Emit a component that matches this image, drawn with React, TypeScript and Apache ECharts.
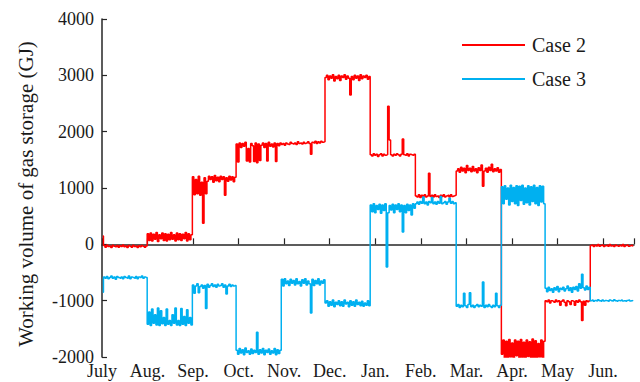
import React, { useEffect, useRef } from "react";
import * as echarts from "echarts";

const months = ["July", "Aug.", "Sep.", "Oct.", "Nov.", "Dec.", "Jan.", "Feb.", "Mar.", "Apr.", "May", "Jun."];
const monthDays = [31, 31, 30, 31, 30, 31, 31, 28, 31, 30, 31, 30];
const yTicks = [-2000, -1000, 0, 1000, 2000, 3000, 4000];
const seriesNames = ["Case 2", "Case 3"];

// Daily working volume (GJ), one list per month, Case 2
const case2Daily: number[][] = [
  [150, -20, -50, -10, -40, -30, -55, -15, -35, -45, -20, -50, -25, -40, -10, -45, -30, -55, -20, -35, -50, -15, -40, -30, -55, -25, -45, -20, -35, -50, -30],
  [190, 70, 200, 60, 180, 90, 210, 50, 170, 100, 200, 70, 190, 60, 180, 80, 210, 90, 170, 60, 200, 80, 190, 70, 180, 100, 210, 60, 190, 80, 170],
  [1200, 880, 1150, 900, 1210, 870, 1100, 373, 1180, 900, 1120, 1210, 1150, 1200, 1100, 1220, 1130, 1190, 1110, 1210, 1150, 1200, 870, 1180, 1120, 1210, 1140, 1200, 1110, 1190],
  [1780, 1460, 1800, 1720, 1790, 1740, 1810, 1480, 1700, 1460, 1790, 1750, 1470, 1800, 1450, 1780, 1490, 1760, 1800, 1720, 1790, 1480, 1810, 1740, 1780, 1730, 1800, 1470, 1790, 1750, 1800],
  [1770, 1790, 1760, 1800, 1780, 1770, 1810, 1790, 1780, 1800, 1770, 1820, 1790, 1800, 1780, 1810, 1790, 1800, 1820, 1790, 1600, 1810, 1800, 1830, 1790, 1820, 1800, 1830, 1810, 1820],
  [2960, 3000, 2920, 2990, 2950, 3010, 2900, 2980, 2940, 3000, 2910, 2990, 2960, 3010, 2930, 2990, 2950, 2650, 2980, 2920, 3000, 2950, 2990, 2910, 3010, 2940, 2990, 2960, 3000, 2930, 2980],
  [1590, 1570, 1610, 1580, 1600, 1560, 1590, 1610, 1570, 1600, 1580, 1590, 2450, 1850, 1590, 1570, 1600, 1580, 1610, 1590, 1570, 1600, 1870, 1590, 1580, 1610, 1570, 1600, 1590, 1580, 1600],
  [860, 840, 880, 830, 870, 850, 880, 840, 860, 1260, 850, 870, 840, 880, 850, 860, 830, 870, 850, 880, 840, 860, 870, 840, 880, 850, 860, 870],
  [1300, 1340, 1280, 1370, 1300, 1350, 1270, 1400, 1310, 1350, 1290, 1380, 1300, 1340, 1270, 1360, 1310, 1410, 1030, 1300, 1350, 1280, 1370, 1310, 1420, 1290, 1340, 1300, 1360, 1280, 1330],
  [-1950, -1700, -2050, -1720, -2030, -1690, -2000, -1750, -2050, -1700, -1980, -1720, -2040, -1690, -2010, -1740, -2050, -1700, -1990, -1730, -2040, -1680, -2020, -1710, -2050, -1760, -2000, -1700, -2040, -1720],
  [-1000, -1020, -990, -1040, -1000, -1010, -1030, -990, -1020, -1000, -1080, -1010, -990, -1030, -1090, -1000, -1020, -1070, -1000, -1010, -1080, -1000, -1030, -990, -1020, -1350, -1010, -1080, -1000, -1020, -1000],
  [-20, -10, -40, -15, -30, -5, -35, -20, -10, -40, -25, -15, -35, -5, -30, -20, -40, -10, -25, -35, -15, -30, -5, -40, -20, -10, -35, -25, -15, -30],
];

// Daily working volume (GJ), one list per month, Case 3
const case3Daily: number[][] = [
  [-850, -580, -600, -570, -610, -590, -560, -600, -580, -620, -570, -590, -600, -580, -610, -570, -590, -600, -560, -610, -580, -590, -600, -570, -610, -580, -590, -560, -600, -580, -590],
  [-1420, -1200, -1440, -1150, -1400, -1250, -1430, -1130, -1440, -1180, -1410, -1300, -1440, -1150, -1420, -1350, -1440, -1250, -1400, -1130, -1430, -1350, -1440, -1140, -1420, -1280, -1440, -1160, -1400, -1300, -1430],
  [-720, -870, -740, -700, -860, -750, -720, -780, -730, -1137, -710, -760, -730, -700, -750, -720, -760, -710, -740, -730, -700, -760, -720, -880, -740, -710, -750, -720, -740, -730],
  [-1880, -1950, -1850, -1930, -1870, -1960, -1840, -1920, -1890, -1950, -1860, -1940, -1880, -1920, -1560, -1950, -1870, -1930, -1850, -1960, -1880, -1920, -1860, -1950, -1890, -1930, -1850, -1960, -1870, -1940, -1880],
  [-620, -740, -610, -700, -650, -730, -620, -690, -640, -720, -610, -700, -660, -740, -630, -690, -610, -720, -650, -700, -1220, -620, -730, -640, -700, -610, -720, -650, -690, -630],
  [-1040, -1000, -1100, -1020, -1080, -990, -1110, -1030, -1070, -1000, -1090, -1020, -1100, -990, -1060, -1030, -1110, -1000, -1080, -1020, -1100, -990, -1070, -1030, -1090, -1010, -1100, -1040, -1080, -1000, -1090],
  [700, 580, 720, 560, 690, 620, 710, 550, 700, 600, 720, -403, 560, 690, 610, 710, 560, 700, 620, 720, 580, 700, 218, 690, 560, 710, 600, 700, 520, 720, 640],
  [720, 750, 710, 760, 730, 840, 720, 750, 700, 760, 740, 830, 720, 750, 710, 760, 730, 850, 720, 740, 760, 710, 750, 820, 730, 760, 720, 740],
  [-1100, -1070, -1120, -1080, -1110, -870, -1090, -1120, -1070, -860, -1110, -1080, -1120, -1090, -1070, -1110, -1080, -1100, -670, -1120, -1080, -1110, -1070, -1100, -1120, -1080, -1110, -870, -1090, -1120, -1080],
  [1020, 720, 1040, 800, 1000, 700, 1050, 760, 1010, 720, 1040, 690, 1030, 780, 1050, 710, 1000, 740, 1040, 700, 1020, 760, 1050, 720, 1010, 690, 1040, 750, 1030, 720],
  [-780, -840, -760, -820, -790, -850, -770, -810, -750, -840, -780, -800, -760, -830, -790, -740, -820, -770, -850, -760, -800, -750, -830, -700, -780, -533, -770, -810, -740, -800, -760],
  [-1000, -990, -1010, -995, -1005, -985, -1000, -1010, -990, -1005, -995, -1000, -1010, -990, -1000, -1005, -985, -1000, -1010, -995, -1000, -990, -1005, -1000, -1010, -995, -990, -1005, -1000, -995],
];

const HOURS_PER_DAY = 24;
const TICK_HOURS = 750;
const YEAR_HOURS = 8760;

function toPoints(byMonth: number[][]): [number, number][] {
  const pts: [number, number][] = [];
  let start = 0;
  byMonth.forEach((vals, m) => {
    vals.forEach((v, i) => pts.push([(start + i + 0.5) * HOURS_PER_DAY, v]));
    start += monthDays[m];
  });
  return pts;
}

const FONT = "Liberation Serif";
const TXT = "#1a1a1a";

export default function App() {
  const ref = useRef<HTMLDivElement>(null);
  useEffect(() => {
    if (!ref.current) return;
    const chart = echarts.init(ref.current, undefined, { renderer: "svg" });
    chart.setOption({
      animation: false,
      backgroundColor: "#ffffff",
      textStyle: { fontFamily: FONT },
      grid: { left: 102, right: 6, top: 19, bottom: 25, containLabel: false },
      legend: {
        data: seriesNames.map((n) => ({ name: n, icon: "rect" })),
        orient: "vertical",
        left: 457,
        top: 30,
        itemWidth: 63,
        itemHeight: 2,
        itemGap: 14,
        textStyle: { fontFamily: FONT, fontSize: 20, color: TXT, padding: [0, 0, 0, 2] },
      },
      xAxis: {
        type: "value",
        min: 0,
        max: YEAR_HOURS,
        interval: TICK_HOURS,
        axisLine: { lineStyle: { color: "#262626", width: 1.5 } },
        axisTick: { inside: true, length: 6, lineStyle: { color: "#262626", width: 1.2 } },
        axisLabel: {
          fontFamily: FONT,
          fontSize: 18,
          color: TXT,
          margin: 5,
          formatter: (v: number) => {
            const idx = Math.round(v / TICK_HOURS);
            return Math.abs(v - idx * TICK_HOURS) < 1e-6 && idx < months.length ? months[idx] : "";
          },
        },
        splitLine: { show: false },
      },
      yAxis: {
        type: "value",
        min: yTicks[0],
        max: yTicks[yTicks.length - 1],
        interval: 1000,
        name: "Working volume of gas storage (GJ)",
        nameLocation: "middle",
        nameGap: 66,
        nameTextStyle: { fontFamily: FONT, fontSize: 21, color: TXT, padding: [0, 12, 0, 0] },
        axisLine: { show: true, lineStyle: { color: "#262626", width: 1.5 } },
        axisTick: { show: true, inside: true, length: 5, lineStyle: { color: "#262626", width: 1.2 } },
        axisLabel: {
          fontFamily: FONT,
          fontSize: 18,
          color: TXT,
          margin: 8,
          formatter: (v: number) => String(v),
        },
        splitLine: { show: false },
      },
      series: [
        {
          name: seriesNames[0],
          type: "line",
          step: "middle",
          symbol: "none",
          clip: true,
          color: "#ff0000",
          lineStyle: { color: "#ff0000", width: 1.5 },
          data: toPoints(case2Daily),
        },
        {
          name: seriesNames[1],
          type: "line",
          step: "middle",
          symbol: "none",
          clip: true,
          color: "#00b0f0",
          lineStyle: { color: "#00b0f0", width: 1.5 },
          data: toPoints(case3Daily),
        },
      ],
    });
    return () => chart.dispose();
  }, []);
  return (
    <div
      ref={ref}
      style={{ position: "fixed", left: 0, top: 0, width: 640, height: 382, background: "#fff" }}
    />
  );
}
